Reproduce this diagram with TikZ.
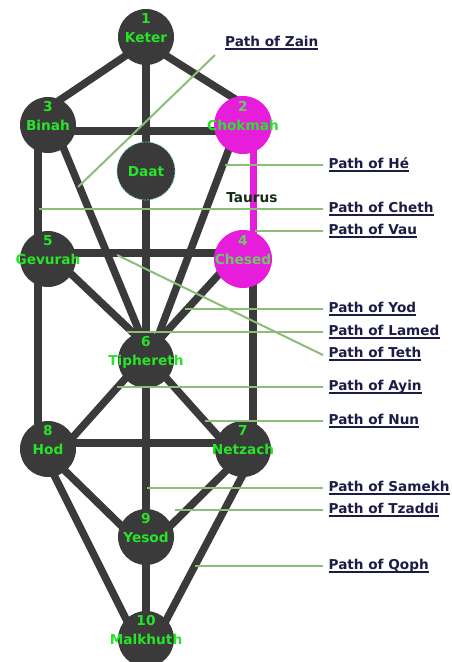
\documentclass[tikz,border=0pt]{standalone}
\usepackage{fontspec}
\setmainfont{DejaVu Sans}
\pgfdeclarelayer{bg}
\pgfsetlayers{bg,main}
\definecolor{sefgray}{RGB}{58,58,58}
\definecolor{hotpink}{RGB}{230,30,220}
\definecolor{txtgreen}{RGB}{40,228,40}
\definecolor{txtmuted}{RGB}{110,200,100}
\definecolor{leadgreen}{RGB}{140,190,120}
\definecolor{labblue}{RGB}{28,28,70}
\definecolor{taurusc}{RGB}{20,45,20}
\definecolor{daatedge}{RGB}{110,215,215}
\begin{document}
\begin{tikzpicture}[x=1pt,y=-1pt,
  sef/.style={circle,fill=sefgray,draw=none,minimum size=56pt,inner sep=0pt},
  hot/.style={sef,fill=hotpink,minimum size=58pt},
  pathline/.style={draw=sefgray,line width=7.5pt},
  hotline/.style={draw=hotpink,line width=7pt},
  stxt/.style={text=txtgreen,font=\bfseries\fontsize{13.7}{16}\selectfont,inner sep=0pt,anchor=base},
  lead/.style={draw=leadgreen,line width=2pt},
  plab/.style={text=labblue,font=\bfseries\fontsize{13.6}{16}\selectfont,inner sep=0pt,anchor=base west},
  uline/.style={draw=labblue,line width=1.4pt}]
\useasboundingbox (0,0) rectangle (452,662);

% sefirot
\node[sef] (keter) at (146,37) {};
\node[hot] (chokmah) at (243,125) {};
\node[sef] (binah) at (48,125) {};
\node[sef,minimum size=58pt,draw=daatedge,line width=0.8pt,dash pattern=on 1.5pt off 1.5pt] (daat) at (146,171) {};
\node[sef] (gevurah) at (48,259) {};
\node[hot] (chesed) at (243,259) {};
\node[sef] (tiphereth) at (146,360) {};
\node[sef] (hod) at (48,449) {};
\node[sef] (netzach) at (243,449) {};
\node[sef] (yesod) at (146,537) {};
\node[sef] (malkhuth) at (146,639) {};

\begin{pgfonlayer}{bg}
\fill[white] (0,0) rectangle (452,662);
\draw[pathline] (keter.center) -- (malkhuth.center);
\draw[pathline] ([yshift=-5pt]keter.center) -- ([yshift=17pt]binah.center);
\draw[pathline] ([yshift=-6pt]keter.center) -- ([yshift=21pt]chokmah.center);
\draw[pathline] ([yshift=-6pt]binah.center) -- ([yshift=-6pt]chokmah.center);
\draw[pathline] ([xshift=-10pt]binah.center) -- ([xshift=-10pt]gevurah.center);
\draw[pathline] ([xshift=-10pt]gevurah.center) -- ([xshift=-10pt]hod.center);
\draw[hotline] ([xshift=10pt]chokmah.center) -- ([xshift=10pt]chesed.center);
\draw[pathline] ([xshift=10pt]chesed.center) -- ([xshift=10pt]netzach.center);
\draw[pathline] ([yshift=6pt]gevurah.center) -- ([yshift=6pt]chesed.center);
\draw[pathline] ([yshift=6pt]hod.center) -- ([yshift=6pt]netzach.center);
\draw[pathline] ([xshift=6pt]binah.center) -- ([xshift=5pt]tiphereth.center);
\draw[pathline] ([xshift=-5pt]chokmah.center) -- ([xshift=3pt]tiphereth.center);
\draw[pathline] ([yshift=7pt]gevurah.center) -- ([yshift=15pt]tiphereth.center);
\draw[pathline] ([yshift=11pt]chesed.center) -- ([yshift=6pt]tiphereth.center);
\draw[pathline] ([xshift=17pt,yshift=3pt]hod.center) -- ([xshift=-13pt,yshift=-10pt]tiphereth.center);
\draw[pathline] ([xshift=-16pt,yshift=3pt]netzach.center) -- ([xshift=13pt,yshift=-10pt]tiphereth.center);
\draw[pathline] ([xshift=7pt,yshift=-12pt]hod.center) -- ([xshift=-6pt,yshift=-7pt]yesod.center);
\draw[pathline] ([xshift=-7pt,yshift=-12pt]netzach.center) -- ([xshift=6pt,yshift=-7pt]yesod.center);
\draw[pathline] ([xshift=2pt,yshift=-18pt]hod.center) -- ([xshift=-14.5pt,yshift=9pt]malkhuth.center);
\draw[pathline] ([xshift=4pt,yshift=-18pt]netzach.center) -- ([xshift=15pt,yshift=9pt]malkhuth.center);
\end{pgfonlayer}

% sefirot texts
\node[stxt] (n1) at ([yshift=13.5pt]keter.center) {1};
\node[stxt] (t1) at ([yshift=-5pt]keter.center) {Keter};
\node[stxt,text=txtmuted] (n2) at ([yshift=13.5pt]chokmah.center) {2};
\node[stxt] (t2) at ([yshift=-5pt]chokmah.center) {Chokmah};
\node[stxt] (n3) at ([yshift=13.5pt]binah.center) {3};
\node[stxt] (t3) at ([yshift=-5pt]binah.center) {Binah};
\node[stxt] (td) at ([yshift=-5pt]daat.center) {Daat};
\node[stxt,text=txtmuted] (n4) at ([yshift=13.5pt]chesed.center) {4};
\node[stxt,text=txtmuted] (t4) at ([yshift=-5pt]chesed.center) {Chesed};
\node[stxt] (n5) at ([yshift=13.5pt]gevurah.center) {5};
\node[stxt] (t5) at ([yshift=-5pt]gevurah.center) {Gevurah};
\node[stxt] (n6) at ([yshift=13.5pt]tiphereth.center) {6};
\node[stxt] (t6) at ([yshift=-5pt]tiphereth.center) {Tiphereth};
\node[stxt] (n7) at ([yshift=13.5pt]netzach.center) {7};
\node[stxt] (t7) at ([yshift=-5pt]netzach.center) {Netzach};
\node[stxt] (n8) at ([yshift=13.5pt]hod.center) {8};
\node[stxt] (t8) at ([yshift=-5pt]hod.center) {Hod};
\node[stxt] (n9) at ([yshift=13.5pt]yesod.center) {9};
\node[stxt] (t9) at ([yshift=-5pt]yesod.center) {Yesod};
\node[stxt] (n10) at ([yshift=13.5pt]malkhuth.center) {10};
\node[stxt] (t10) at ([yshift=-5pt]malkhuth.center) {Malkhuth};

\node[stxt,text=taurusc] (taurus) at (252,202) {Taurus};

% labels
\newcommand\plabel[4]{%
  \node[plab] (#1) at (#2,#3) {#4};
  \draw[uline] ([yshift=-2.5pt]#1.base west) -- ([yshift=-2.5pt]#1.base east);}
\plabel{lzain}{225}{46.5}{Path of Zain}
\plabel{lhe}{328.5}{168.5}{Path of Hé}
\plabel{lcheth}{328.5}{212.5}{Path of Cheth}
\plabel{lvau}{328.5}{234.5}{Path of Vau}
\plabel{lyod}{328.5}{312.5}{Path of Yod}
\plabel{llamed}{328.5}{335.5}{Path of Lamed}
\plabel{lteth}{328.5}{357.5}{Path of Teth}
\plabel{layin}{328.5}{390.5}{Path of Ayin}
\plabel{lnun}{328.5}{424.5}{Path of Nun}
\plabel{lsamekh}{328.5}{491.5}{Path of Samekh}
\plabel{ltzaddi}{328.5}{513.5}{Path of Tzaddi}
\plabel{lqoph}{328.5}{569.5}{Path of Qoph}

% leader start points
\coordinate (szain) at (78,187);
\coordinate (ezain) at (215,55);
\coordinate (she) at (225,165);
\coordinate (scheth) at (39,209);
\coordinate (svau) at (255,231);
\coordinate (syod) at (185,309);
\coordinate (slamed) at (127,332);
\coordinate (steth) at (117,255);
\coordinate (sayin) at (117,387);
\coordinate (snun) at (205,421);
\coordinate (ssamekh) at (147,488);
\coordinate (stzaddi) at (175,510);
\coordinate (sqoph) at (195,566);

\draw[lead] (szain) -- (ezain);
\draw[lead] (she) -- ([xshift=-5.5pt,yshift=3.5pt]lhe.base west);
\draw[lead] (scheth) -- ([xshift=-5.5pt,yshift=3.5pt]lcheth.base west);
\draw[lead] (svau) -- ([xshift=-5.5pt,yshift=3.5pt]lvau.base west);
\draw[lead] (syod) -- ([xshift=-5.5pt,yshift=3.5pt]lyod.base west);
\draw[lead] (slamed) -- ([xshift=-5.5pt,yshift=3.5pt]llamed.base west);
\draw[lead] (steth) -- ([xshift=-5.5pt,yshift=2.5pt]lteth.base west);
\draw[lead] (sayin) -- ([xshift=-5.5pt,yshift=3.5pt]layin.base west);
\draw[lead] (snun) -- ([xshift=-5.5pt,yshift=3.5pt]lnun.base west);
\draw[lead] (ssamekh) -- ([xshift=-5.5pt,yshift=3.5pt]lsamekh.base west);
\draw[lead] (stzaddi) -- ([xshift=-5.5pt,yshift=3.5pt]ltzaddi.base west);
\draw[lead] (sqoph) -- ([xshift=-5.5pt,yshift=3.5pt]lqoph.base west);
\end{tikzpicture}
\end{document}
